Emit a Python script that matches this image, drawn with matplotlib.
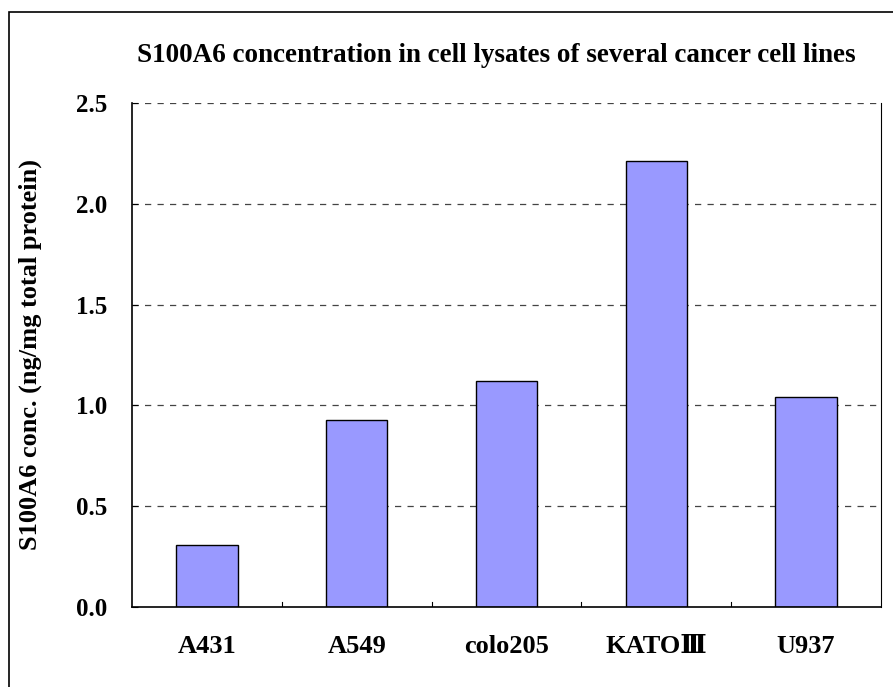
import matplotlib.pyplot as plt
from matplotlib.patches import Rectangle

# datos
lineas_celulares = ['A431', 'A549', 'colo205', 'KATO\u2162', 'U937']
concentracion = [0.31, 0.93, 1.12, 2.21, 1.04]
ticks_y = [0.0, 0.5, 1.0, 1.5, 2.0, 2.5]

fuente = ['Liberation Serif', 'DejaVu Serif']
plt.rcParams['font.family'] = fuente
plt.rcParams['font.weight'] = 'bold'

fig = plt.figure(figsize=(8.93, 6.87), dpi=100)
ax = fig.add_axes([132/893, 1 - 607/687, (881 - 132)/893, (607 - 103)/687])

# marco exterior del grafico (solo se ve arriba y a la izquierda)
fig.patches.append(Rectangle((9/893, -0.05), 1.05, 1 - 12/687 + 0.05,
                             transform=fig.transFigure, fill=False,
                             edgecolor='black', linewidth=1.2))

x = range(len(lineas_celulares))
ax.bar(x, concentracion, width=0.41, color='#9999FF', edgecolor='black', linewidth=1)

ax.set_xlim(-0.5, len(lineas_celulares) - 0.5)
ax.set_ylim(0, 2.5)
ax.set_yticks(ticks_y)
ax.set_yticklabels([f'{v:.1f}' for v in ticks_y], fontsize=18, fontweight='bold')
ax.set_xticks(list(x))
ax.set_xticklabels(lineas_celulares, fontsize=19, fontweight='bold')
ax.tick_params(axis='x', length=0, pad=20)
ax.tick_params(axis='y', length=4, direction='in', pad=18)

# ticks entre categorias en el eje x
for b in [0.5, 1.5, 2.5, 3.5]:
    ax.plot([b, b], [0, 0.025], color='black', linewidth=0.8)

for v in ticks_y[1:]:
    ax.axhline(v, color='#444444', linestyle=(0, (5, 5)), linewidth=0.9, zorder=0)

ax.spines['top'].set_visible(False)
for s in ['left', 'bottom', 'right']:
    ax.spines[s].set_linewidth(1.2)
ax.spines['right'].set_linewidth(0.8)

ax.set_ylabel('S100A6 conc. (ng/mg total protein)', fontsize=19, fontweight='bold', labelpad=24)
fig.text(496/893, 1 - 56/687, 'S100A6 concentration in cell lysates of several cancer cell lines',
         ha='center', va='center', fontsize=19.5, fontweight='bold')

plt.savefig('out.png', dpi=100)
